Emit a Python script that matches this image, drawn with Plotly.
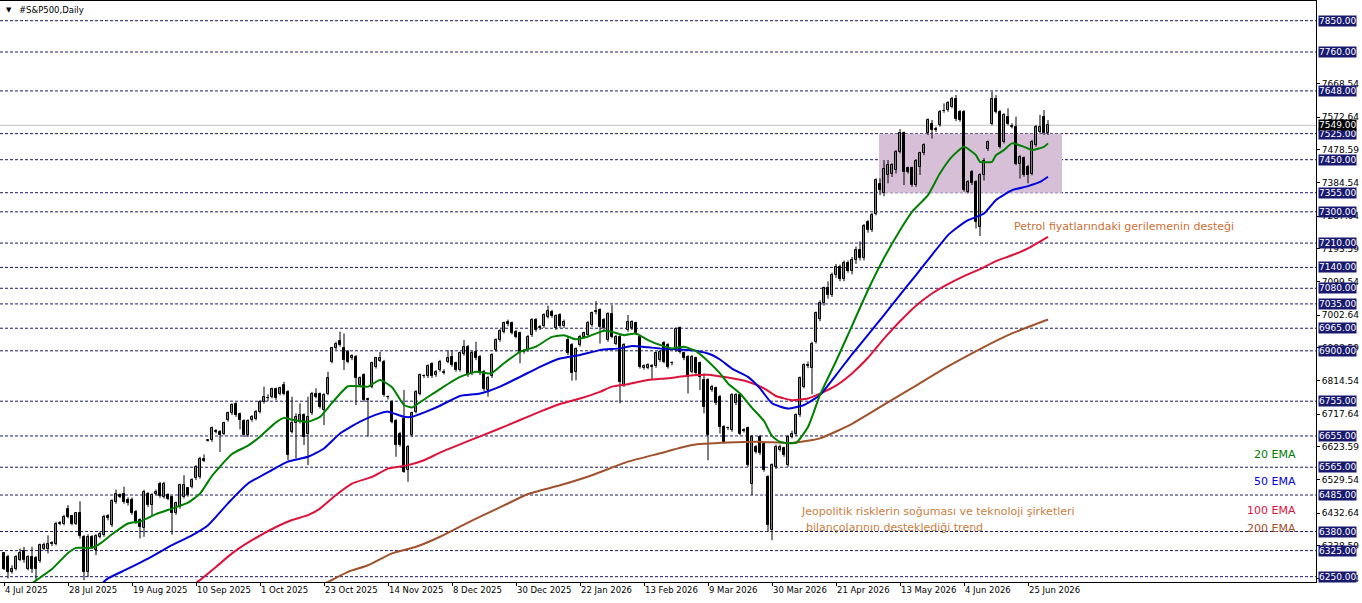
import plotly.graph_objects as go

# ---------------- data ----------------
O = [6317,6307,6264,6273,6299,6323,6273,6307,6304,6295,6331,6331,6347,6345,6402,6403,6446,6424,6403,6432,
     6365,6264,6365,6326,6365,6369,6425,6398,6465,6484,6487,6472,6472,6437,6413,6389,6487,6456,6488,6518,
     6480,6485,6478,6434,6451,6480,6504,6509,6533,6537,6590,6641,6643,6667,6667,6662,6701,6720,6747,6718,
     6698,6657,6701,6705,6725,6753,6763,6768,6789,6777,6801,6782,6667,6691,6696,6715,6662,6720,6777,6775,
     6729,6777,6869,6907,6929,6907,6897,6878,6883,6801,6830,6760,6797,6854,6872,6869,6766,6753,6699,6662,
     6705,6557,6657,6725,6777,6827,6827,6862,6830,6845,6837,6869,6883,6864,6845,6891,6912,6835,6897,6883,
     6840,6787,6827,6902,6931,6955,6982,6979,6955,6950,6897,6902,6945,6989,6965,6971,6998,7013,6965,7003,
     6971,6931,6917,6838,6917,6941,6945,6974,7013,7017,6989,6931,7006,6921,6941,6801,6960,6965,6979,6941,
     6851,6852,6856,6856,6873,6923,6917,6864,6902,6965,6893,6883,6840,6878,6864,6816,6816,6787,6792,6768,
     6681,6677,6672,6749,6773,6672,6677,6518,6624,6653,6633,6537,6384,6566,6616,6619,6571,6653,6662,6715,
     6797,6856,6850,6926,6993,7037,7080,7060,7118,7140,7108,7152,7130,7162,7190,7168,7271,7247,7295,7380,
     7353,7406,7410,7420,7473,7526,7425,7425,7377,7430,7468,7526,7554,7538,7550,7590,7593,7603,7624,7588,
     7588,7358,7415,7386,7257,7406,7480,7554,7626,7588,7502,7574,7545,7545,7439,7454,7430,7410,7492,7530,
     7574,7526]
H = [6321,6313,6283,6312,6331,6336,6312,6336,6310,6345,6348,6369,6352,6408,6410,6428,6456,6428,6436,6467,
     6370,6372,6370,6372,6380,6428,6430,6473,6501,6490,6509,6478,6478,6442,6418,6500,6494,6490,6501,6523,
     6523,6490,6483,6466,6518,6542,6508,6533,6571,6595,6602,6643,6682,6675,6672,6696,6725,6749,6752,6722,
     6703,6703,6715,6730,6758,6797,6775,6794,6794,6797,6811,6787,6768,6720,6749,6720,6768,6782,6792,6780,
     6778,6840,6912,6926,6955,6950,6902,6890,6888,6826,6835,6765,6869,6883,6897,6874,6771,6758,6704,6667,
     6787,6629,6725,6787,6835,6832,6861,6867,6845,6874,6847,6902,6902,6869,6898,6931,6917,6900,6926,6888,
     6845,6828,6893,6936,6963,6984,6990,6984,6960,6955,6904,6946,6994,6994,6974,7008,7030,7018,7005,7008,
     6990,6940,6922,6910,6946,6955,6986,7013,7043,7022,6994,7011,7032,6946,6946,6922,7003,6988,6984,6946,
     6861,6864,6862,6898,6902,6928,6922,6870,6967,6970,6898,6888,6888,6883,6869,6835,6821,6802,6797,6773,
     6686,6682,6778,6778,6778,6677,6682,6658,6629,6658,6638,6542,6576,6630,6630,6624,6658,6670,6720,6826,
     6864,6869,6926,7013,7045,7085,7100,7125,7150,7148,7160,7160,7170,7200,7215,7265,7276,7297,7396,7396,
     7449,7449,7440,7478,7538,7531,7430,7430,7452,7473,7497,7569,7564,7545,7593,7612,7619,7631,7636,7593,
     7593,7391,7420,7391,7411,7455,7505,7646,7636,7593,7584,7598,7555,7574,7463,7459,7435,7507,7550,7579,
     7593,7564]
L = [6269,6245,6259,6268,6295,6290,6268,6261,6240,6290,6326,6317,6338,6340,6398,6398,6418,6398,6399,6360,
     6240,6249,6330,6312,6360,6365,6412,6393,6460,6476,6460,6455,6428,6402,6360,6365,6450,6427,6485,6477,
     6475,6470,6371,6428,6446,6475,6480,6504,6528,6532,6580,6639,6638,6662,6609,6657,6696,6715,6710,6674,
     6652,6652,6696,6700,6720,6748,6755,6763,6758,6772,6772,6585,6662,6590,6691,6629,6571,6715,6763,6734,
     6686,6772,6864,6902,6912,6845,6864,6873,6744,6796,6753,6653,6792,6849,6868,6768,6760,6691,6595,6624,
     6549,6523,6652,6720,6772,6822,6822,6822,6825,6840,6832,6864,6854,6840,6840,6886,6825,6830,6873,6830,
     6784,6768,6822,6897,6926,6950,6971,6947,6936,6864,6892,6897,6940,6955,6960,6966,6993,6995,6960,6966,
     6966,6888,6814,6815,6912,6936,6940,6969,7005,6921,6960,6926,6936,6916,6749,6796,6955,6960,6945,6849,
     6846,6847,6816,6851,6868,6864,6849,6858,6897,6892,6873,6777,6835,6830,6787,6720,6585,6782,6744,6662,
     6633,6672,6667,6744,6657,6665,6566,6485,6604,6600,6552,6379,6355,6560,6610,6595,6566,6648,6655,6710,
     6792,6850,6775,6921,6985,7030,7050,7055,7110,7100,7100,7125,7120,7150,7160,7160,7240,7242,7290,7348,
     7345,7382,7400,7410,7468,7377,7410,7372,7372,7406,7463,7521,7511,7530,7545,7585,7588,7598,7561,7559,
     7358,7353,7377,7252,7230,7390,7475,7549,7583,7482,7497,7549,7540,7434,7396,7401,7382,7405,7487,7525,
     7521,7521]
C = [6273,6264,6273,6307,6317,6297,6307,6273,6273,6341,6341,6345,6343,6403,6405,6422,6422,6403,6432,6367,
     6264,6365,6336,6367,6374,6422,6418,6468,6489,6480,6465,6461,6434,6408,6392,6494,6456,6485,6494,6482,
     6518,6475,6434,6461,6513,6513,6485,6528,6566,6590,6584,6641,6677,6669,6657,6691,6720,6744,6715,6701,
     6657,6698,6710,6725,6753,6768,6763,6789,6763,6792,6777,6600,6691,6710,6715,6653,6710,6777,6768,6739,
     6773,6821,6907,6921,6917,6873,6869,6885,6821,6821,6758,6758,6864,6878,6878,6773,6766,6696,6629,6629,
     6552,6624,6720,6782,6830,6827,6856,6827,6840,6869,6837,6878,6859,6845,6893,6912,6830,6895,6878,6835,
     6789,6823,6888,6931,6958,6979,6976,6952,6941,6897,6899,6941,6989,6960,6969,7003,7015,7000,7000,6971,
     6984,6893,6835,6905,6941,6950,6981,7008,7012,6969,6965,7006,6941,6941,6811,6917,6984,6982,6950,6854,
     6856,6859,6854,6893,6897,6869,6854,6864,6962,6897,6878,6825,6883,6835,6825,6739,6657,6797,6749,6681,
     6638,6677,6773,6773,6662,6670,6571,6653,6609,6605,6557,6398,6571,6624,6624,6600,6653,6660,6715,6821,
     6859,6860,6921,7008,7037,7080,7060,7118,7140,7108,7152,7130,7162,7190,7168,7258,7247,7290,7391,7362,
     7422,7434,7434,7473,7526,7415,7415,7377,7447,7468,7492,7564,7535,7536,7588,7591,7614,7626,7566,7564,
     7363,7386,7382,7271,7406,7445,7500,7626,7588,7487,7579,7554,7545,7439,7458,7406,7406,7502,7545,7545,
     7526,7549]

# EMA readings (bar index -> value)
ema20_x = [5,9,12,16,18,22,24,27,31,34,38,42,46,49,52,57,61,64,68,70,72,76,79,82,86,91,94,97,100,102,104,107,109,
           114,118,121,122,125,129,133,137,140,143,146,150,152,155,158,161,164,167,170,173,176,179,181,184,187,190,
           192,194,198,201,204,208,212,216,220,224,227,231,234,237,240,242,243,244,247,248,250,252,255,257,260,261]
ema20_y = [6215,6247,6272,6318,6333,6333,6345,6372,6403,6409,6430,6446,6463,6489,6540,6603,6627,6653,6694,6707,6702,
           6696,6710,6750,6798,6797,6816,6795,6744,6737,6752,6775,6790,6825,6840,6835,6836,6864,6897,6912,6940,6945,
           6933,6941,6958,6955,6945,6950,6931,6917,6907,6912,6899,6870,6835,6806,6777,6736,6698,6655,6638,6635,6681,
           6773,6870,6972,7075,7167,7247,7300,7348,7411,7459,7487,7473,7463,7444,7444,7463,7478,7497,7487,7478,7487,7497]
ema50_x = [24,26,31,36,42,47,51,56,61,67,71,76,80,84,89,94,96,100,102,104,106,109,114,119,124,129,134,139,144,149,
           154,157,161,164,169,173,177,179,182,186,189,192,196,200,204,208,212,216,220,224,228,232,236,238,241,245,
           248,252,256,259,261]
ema50_y = [6225,6245,6273,6302,6341,6369,6398,6461,6518,6557,6581,6595,6619,6662,6696,6720,6725,6710,6710,6718,6727,
           6742,6770,6777,6797,6825,6854,6878,6888,6902,6907,6914,6910,6907,6904,6900,6888,6875,6849,6825,6792,6749,
           6734,6744,6773,6830,6890,6946,7003,7061,7118,7176,7233,7252,7276,7295,7334,7362,7374,7386,7401]
ema100_x = [47,49,53,57,62,68,72,76,79,83,87,92,96,101,105,109,116,123,129,134,139,144,149,152,156,161,166,171,176,
            179,181,186,190,193,197,201,204,208,212,216,220,224,228,232,236,240,244,248,252,256,261]
ema100_y = [6225,6240,6278,6317,6355,6393,6413,6427,6446,6485,6518,6537,6561,6571,6585,6607,6640,6672,6701,6725,6747,
            6763,6782,6797,6804,6816,6821,6828,6831,6826,6823,6811,6792,6770,6758,6763,6777,6800,6835,6880,6935,6985,
            7030,7065,7092,7115,7135,7158,7175,7195,7228]
ema200_x = [79,81,86,91,97,103,109,115,120,125,131,139,147,156,164,172,181,189,197,204,212,220,228,236,244,252,261]
ema200_y = [6225,6235,6264,6283,6317,6336,6365,6400,6428,6455,6488,6513,6542,6581,6605,6629,6636,6638,6635,6648,
            6690,6745,6800,6855,6905,6950,6990]

tick_idx = [0,16,32,48,64,80,96,112,128,144,160,176,192,208,224,240,256]
tick_text = ["4 Jul 2025","28 Jul 2025","19 Aug 2025","10 Sep 2025","1 Oct 2025","23 Oct 2025","14 Nov 2025",
             "8 Dec 2025","30 Dec 2025","22 Jan 2026","13 Feb 2026","9 Mar 2026","30 Mar 2026","21 Apr 2026",
             "13 May 2026","4 Jun 2026","25 Jun 2026"]

levels = [7850,7760,7648,7525,7450,7355,7300,7210,7140,7080,7035,6965,6900,6755,6655,6565,6485,6380,6325,6250]
price_ticks = [7668.54,7572.64,7478.59,7384.54,7287.64,7193.59,7099.54,7002.64,6908.59,6814.54,6717.64,
               6623.59,6529.54,6432.64,6338.59,6244.54]
last_price = 7549.00
zone_low, zone_high = 7355, 7525

# ---------------- figure ----------------
W, Hh = 1362, 603
PL, PR, PT, PB = 0, 46, 1, 21
plot_w = W - PL - PR
plot_h = Hh - PT - PB
Y0, Y1 = 6234.7, 7906.7

def px(x):  # pixel -> paper x
    return (x - PL) / plot_w
def py(y):  # pixel -> paper y
    return (Hh - PB - y) / plot_h

fig = go.Figure()

# wicks
wx, wy = [], []
for i in range(len(C)):
    wx += [i, i, None]
    wy += [L[i], H[i], None]
fig.add_trace(go.Scatter(x=wx, y=wy, mode="lines", line=dict(color="black", width=1),
                         hoverinfo="skip", showlegend=False))

# bodies
up_x, up_b, up_h, dn_x, dn_b, dn_h = [], [], [], [], [], []
for i in range(len(C)):
    b = min(O[i], C[i]); h = max(abs(C[i] - O[i]), 1.5)
    if C[i] >= O[i]:
        up_x.append(i); up_b.append(b); up_h.append(h)
    else:
        dn_x.append(i); dn_b.append(b); dn_h.append(h)
fig.add_trace(go.Bar(x=up_x, y=up_h, base=up_b, width=0.6, marker=dict(color="white", line=dict(color="black", width=1)),
                     showlegend=False, hoverinfo="skip"))
fig.add_trace(go.Bar(x=dn_x, y=dn_h, base=dn_b, width=0.6, marker=dict(color="black", line=dict(color="black", width=1)),
                     showlegend=False, hoverinfo="skip"))

for xs, ys, col in [(ema200_x, ema200_y, "#A0522D"), (ema100_x, ema100_y, "#DC143C"),
                    (ema50_x, ema50_y, "#0000D8"), (ema20_x, ema20_y, "#008000")]:
    fig.add_trace(go.Scatter(x=xs, y=ys, mode="lines", line=dict(color=col, width=2, shape="spline", smoothing=0.5),
                             hoverinfo="skip", showlegend=False))

shapes = [dict(type="rect", xref="x", yref="y", x0=218.75, x1=264.5, y0=zone_low, y1=zone_high,
               fillcolor="#D8BFD8", line=dict(width=0), layer="below")]
for lv in levels:
    shapes.append(dict(type="line", xref="paper", yref="y", x0=0, x1=1, y0=lv, y1=lv,
                       line=dict(color="#1b1b6b", width=1, dash="3px,2px"), layer="below"))
shapes.append(dict(type="line", xref="paper", yref="y", x0=0, x1=1, y0=last_price, y1=last_price,
                   line=dict(color="#c0c0c0", width=1), layer="below"))

ann = []
for lv in levels:
    ann.append(dict(xref="paper", yref="y", x=1, y=lv, xanchor="left", yanchor="middle", xshift=2,
                    text=f"{lv:.2f}", showarrow=False, bgcolor="#191970", borderpad=0,
                    font=dict(family="DejaVu Sans", size=9, color="white")))
ann.append(dict(xref="paper", yref="y", x=1, y=last_price, xanchor="left", yanchor="middle", xshift=2,
                text=f"{last_price:.2f}", showarrow=False, bgcolor="black", borderpad=0,
                font=dict(family="DejaVu Sans", size=9, color="white")))

ann.append(dict(xref="paper", yref="paper", x=px(4), y=py(10), xanchor="left", yanchor="middle",
                text="▼", showarrow=False, font=dict(family="DejaVu Sans", size=7, color="black")))
ann.append(dict(xref="paper", yref="paper", x=px(17), y=py(10), xanchor="left", yanchor="middle",
                text="#S&P500,Daily", showarrow=False, font=dict(family="DejaVu Sans", size=8.5, color="black")))

orange = "#CD6F34"
ann.append(dict(xref="paper", yref="paper", x=px(1012), y=py(226), xanchor="left", yanchor="middle",
                text="Petrol fiyatlarındaki gerilemenin desteği", showarrow=False,
                font=dict(family="DejaVu Sans", size=11, color=orange)))
ann.append(dict(xref="paper", yref="paper", x=px(799), y=py(511), xanchor="left", yanchor="middle",
                text="Jeopolitik risklerin soğuması ve teknoloji şirketleri", showarrow=False,
                font=dict(family="DejaVu Sans", size=11, color="#C9803F")))
ann.append(dict(xref="paper", yref="paper", x=px(804), y=py(527), xanchor="left", yanchor="middle",
                text="bilançolarının desteklediği trend", showarrow=False,
                font=dict(family="DejaVu Sans", size=11, color="#C9803F")))
for txt, yy, col in [("20 EMA", 454, "#008000"), ("50 EMA", 481, "#0000D8"),
                     ("100 EMA", 510, "#DC143C"), ("200 EMA", 528, "#A0522D")]:
    ann.append(dict(xref="paper", yref="paper", x=px(1298), y=py(yy), xanchor="right", yanchor="middle",
                    text=txt, showarrow=False, font=dict(family="DejaVu Sans", size=11, color=col)))

fig.update_layout(
    width=W, height=Hh, margin=dict(l=PL, r=PR, t=PT, b=PB),
    paper_bgcolor="white", plot_bgcolor="white", barmode="overlay", bargap=0,
    showlegend=False, shapes=shapes, annotations=ann,
    xaxis=dict(range=[-1, 328], tickmode="array", tickvals=tick_idx, ticktext=tick_text,
               ticks="outside", ticklen=3, tickcolor="black", showline=True, linecolor="black",
               linewidth=1, mirror=True, showgrid=False, zeroline=False, ticklabelposition="outside right",
               tickfont=dict(family="DejaVu Sans", size=8.5, color="black")),
    yaxis=dict(range=[Y0, Y1], side="right", tickmode="array", tickvals=price_ticks,
               ticktext=[f"{v:.2f}" for v in price_ticks], ticks="outside", ticklen=3, tickcolor="black",
               showline=True, linecolor="black", linewidth=1, mirror=True, showgrid=False, zeroline=False,
               tickfont=dict(family="DejaVu Sans", size=9, color="black")),
)

fig.write_html("out.html")
